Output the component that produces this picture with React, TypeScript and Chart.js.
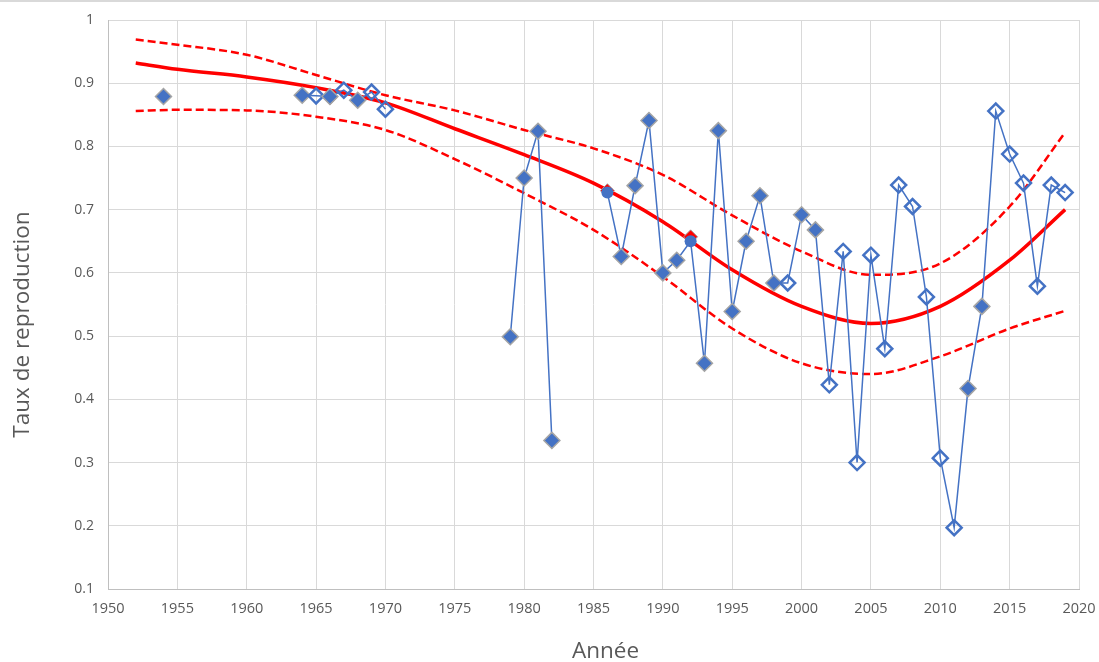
import React, { useEffect, useRef } from "react";
import { Chart, registerables } from "chart.js";

Chart.register(...registerables);

// Observed reproduction rate (null = gap in series)
const years = [1954, 1955, 1964, 1965, 1966, 1967, 1968, 1969, 1970, 1971, 1979, 1980, 1981, 1982, 1983,
  1986, 1987, 1988, 1989, 1990, 1991, 1992, 1993, 1994, 1995, 1996, 1997, 1998, 1999, 2000,
  2001, 2002, 2003, 2004, 2005, 2006, 2007, 2008, 2009, 2010, 2011, 2012, 2013, 2014, 2015,
  2016, 2017, 2018, 2019];
const rates = [0.879, null, 0.881, 0.880, 0.879, 0.889, 0.873, 0.886, 0.859, null, 0.499, 0.750, 0.824, 0.335, null,
  0.727, 0.626, 0.738, 0.841, 0.600, 0.620, 0.650, 0.457, 0.825, 0.539, 0.650, 0.722, 0.584, 0.584, 0.692,
  0.668, 0.423, 0.634, 0.300, 0.628, 0.480, 0.739, 0.705, 0.562, 0.307, 0.197, 0.417, 0.547, 0.856, 0.788,
  0.742, 0.579, 0.739, 0.727];
// marker kind: f = filled diamond, h = hollow diamond, c = circle
const markers = ["f", "", "f", "h", "f", "h", "f", "h", "h", "", "f", "f", "f", "f", "",
  "c", "f", "f", "f", "f", "f", "c", "f", "f", "f", "f", "f", "f", "h", "f",
  "f", "h", "h", "h", "h", "h", "h", "h", "h", "h", "h", "f", "f", "h", "h",
  "h", "h", "h", "h"];

// Red marker points
const redYears = [1966, 1986, 1992];
const redRates = [0.877, 0.730, 0.657];

// Trend and confidence band
const trendYears = [1952, 1955, 1960, 1965, 1970, 1975, 1980, 1985, 1990, 1995, 2000, 2005, 2010, 2015, 2019];
const trendFit = [0.932, 0.922, 0.910, 0.893, 0.869, 0.828, 0.787, 0.742, 0.681, 0.605, 0.547, 0.520, 0.547, 0.620, 0.700];
const trendUpper = [0.969, 0.961, 0.945, 0.913, 0.881, 0.857, 0.826, 0.797, 0.755, 0.691, 0.634, 0.597, 0.615, 0.705, 0.822];
const trendLower = [0.856, 0.858, 0.857, 0.847, 0.826, 0.780, 0.726, 0.668, 0.594, 0.512, 0.457, 0.440, 0.468, 0.512, 0.540];

const xTicks = [1950, 1955, 1960, 1965, 1970, 1975, 1980, 1985, 1990, 1995, 2000, 2005, 2010, 2015, 2020];
const yTicks = [0.1, 0.2, 0.3, 0.4, 0.5, 0.6, 0.7, 0.8, 0.9, 1];
const yTickLabels = ["0.1", "0.2", "0.3", "0.4", "0.5", "0.6", "0.7", "0.8", "0.9", "1"];

const X_TITLE = "Année";
const Y_TITLE = "Taux de reproduction";

const BLUE = "#4472C4";
const RED = "#FF0000";
const TEXT = "#595959";
const FONT = '"Open Sans", "DejaVu Sans", sans-serif';

const titlesPlugin = {
  id: "customTitles",
  afterDraw(chart: any) {
    const { ctx, chartArea } = chart;
    ctx.save();
    ctx.fillStyle = TEXT;
    ctx.font = `22.5px ${FONT}`;
    ctx.textAlign = "center";
    ctx.textBaseline = "middle";
    ctx.fillText(X_TITLE, (chartArea.left + chartArea.right) / 2 + 12, chartArea.bottom + 63);
    ctx.translate(23, (chartArea.top + chartArea.bottom) / 2 + 20);
    ctx.rotate(-Math.PI / 2);
    ctx.fillText(Y_TITLE, 0, 0);
    ctx.restore();
  },
};

export default function App() {
  const ref = useRef<HTMLCanvasElement | null>(null);

  useEffect(() => {
    if (!ref.current) return;
    const mainData = years.map((x, i) => ({ x, y: rates[i] }));
    const kind = (i: number) => markers[i];
    const chart = new Chart(ref.current, {
      type: "line",
      data: {
        datasets: [
          {
            data: mainData as any,
            borderColor: BLUE,
            borderWidth: 1.5,
            spanGaps: false,
            tension: 0,
            pointStyle: (c: any) => (kind(c.dataIndex) === "c" ? "circle" : "rectRot"),
            pointRadius: (c: any) => {
              const k = kind(c.dataIndex);
              return k === "f" ? 8 : k === "h" ? 7.5 : 6;
            },
            pointBackgroundColor: (c: any) => (kind(c.dataIndex) === "h" ? "rgba(0,0,0,0)" : BLUE),
            pointBorderColor: (c: any) => (kind(c.dataIndex) === "f" ? "#A5A5A5" : BLUE),
            pointBorderWidth: (c: any) => {
              const k = kind(c.dataIndex);
              return k === "f" ? 1.5 : k === "h" ? 2.5 : 0;
            },
          },
          {
            data: redYears.map((x, i) => ({ x, y: redRates[i] })) as any,
            showLine: false,
            pointStyle: "rectRot",
            pointRadius: 7,
            pointBackgroundColor: RED,
            pointBorderColor: "#A5A5A5",
            pointBorderWidth: 1,
          },
          {
            data: trendYears.map((x, i) => ({ x, y: trendFit[i] })) as any,
            borderColor: RED,
            borderWidth: 3.5,
            pointRadius: 0,
            cubicInterpolationMode: "monotone",
          },
          {
            data: trendYears.map((x, i) => ({ x, y: trendUpper[i] })) as any,
            borderColor: RED,
            borderWidth: 2.5,
            borderDash: [8, 4],
            pointRadius: 0,
            cubicInterpolationMode: "monotone",
          },
          {
            data: trendYears.map((x, i) => ({ x, y: trendLower[i] })) as any,
            borderColor: RED,
            borderWidth: 2.5,
            borderDash: [8, 4],
            pointRadius: 0,
            cubicInterpolationMode: "monotone",
          },
        ],
      },
      options: {
        animation: false,
        responsive: true,
        maintainAspectRatio: false,
        layout: { padding: { top: 18, right: 20, left: 0, bottom: 0 } },
        plugins: { legend: { display: false }, tooltip: { enabled: false } },
        scales: {
          x: {
            type: "linear",
            min: 1950,
            max: 2020,
            afterBuildTicks: (s: any) => {
              s.ticks = xTicks.map((v) => ({ value: v }));
            },
            afterFit: (s: any) => {
              s.height = 73;
              s.paddingLeft = 0;
              s.paddingRight = 0;
            },
            ticks: {
              color: TEXT,
              font: { family: FONT, size: 14.5 },
              padding: 11,
              maxRotation: 0,
              callback: (v: any) => String(v),
            },
            grid: { color: "#D9D9D9", lineWidth: 1, drawTicks: false },
            border: { color: "#BFBFBF", width: 1 },
          },
          y: {
            type: "linear",
            min: 0.1,
            max: 1,
            afterBuildTicks: (s: any) => {
              s.ticks = yTicks.map((v) => ({ value: v }));
            },
            afterFit: (s: any) => {
              s.width = 108;
              s.paddingTop = 0;
              s.paddingBottom = 0;
            },
            ticks: {
              color: TEXT,
              font: { family: FONT, size: 14 },
              padding: 14,
              callback: (v: any) => {
                const idx = yTicks.findIndex((t) => Math.abs(t - v) < 1e-6);
                return idx >= 0 ? yTickLabels[idx] : "";
              },
            },
            grid: { color: "#D9D9D9", lineWidth: 1, drawTicks: false },
            border: { color: "#BFBFBF", width: 1 },
          },
        },
      },
      plugins: [titlesPlugin],
    });
    return () => chart.destroy();
  }, []);

  return (
    <div
      style={{
        position: "fixed",
        left: 0,
        top: 0,
        width: 1099,
        height: 662,
        background: "#fff",
        boxSizing: "border-box",
        borderTop: "2px solid #D9D9D9",
      }}
    >
      <canvas ref={ref} />
    </div>
  );
}
